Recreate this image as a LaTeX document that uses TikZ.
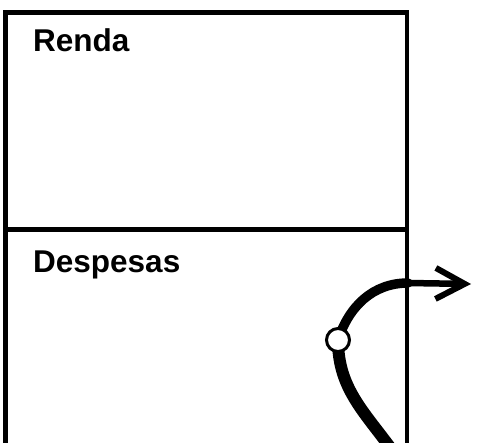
\documentclass[tikz,border=0pt]{standalone}
\usepackage{fontspec}
\setmainfont{Liberation Sans}
\usepackage{tikz}
\usetikzlibrary{arrows.meta}

\begin{document}
\begin{tikzpicture}[x=1pt, y=1pt,
    frame/.style={line width=4.8pt},
    label/.style={anchor=base west, inner sep=0pt,
      font=\bfseries\fontsize{31.5}{36}\selectfont},
    stroke/.style={line width=#1, line cap=round},
    joint/.style={circle, draw, fill=white, line width=3pt,
      minimum size=23pt, inner sep=0pt}
  ]
    \useasboundingbox (0,0) rectangle (478,442);

    % the two-part box, open at the bottom
    \draw[frame] (5.5,-10) |- (407,429.5) -- (407,-10);
    \draw[frame] (5.5,212.5) -- (407,212.5);

    \node[label] (renda) at (33,390.5) {Renda};
    \node[label] (despesas) at (33,169.3) {Despesas};

    \coordinate (start) at (392,-8);
    \coordinate (c) at (338,102);
    \coordinate (cross) at (408,159);
    \coordinate (tip) at (471,158);

    \draw[stroke=12pt] (start) to[out=126, in=-90] (c);
    \draw[stroke=9.5pt] (c) to[out=72, in=180] (cross);
    \draw[stroke=6.5pt, -{Straight Barb[length=29pt, width=31pt, line width=6pt]}]
      (cross) -- (tip);
    \node[joint] (joint) at (c) {};
  \end{tikzpicture}
\end{document}
